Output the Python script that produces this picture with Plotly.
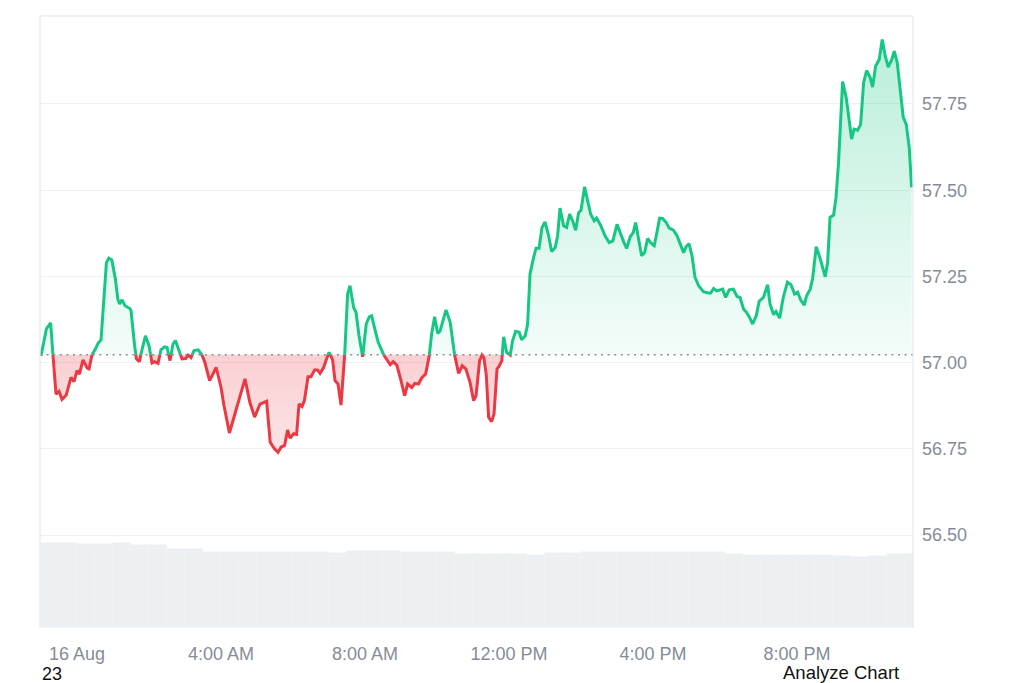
import numpy as np
import pandas as pd
import plotly.graph_objects as go

# ---- data (minutes after 00:00 on 16 Aug 2023, price in USD) ----
minutes = [-60, -51, -44, -40, -35, -30, -25, -18, -10, -5, 0, 4, 10, 17, 20, 25, 30, 35, 40,
           49, 53, 58, 64, 68, 71, 75, 80, 88, 90, 96, 99, 104, 110, 114, 120, 125, 129, 135,
           140, 146, 150, 155, 160, 164, 171, 175, 181, 185, 190, 195, 202, 207, 213, 221, 228,
           232, 240, 245, 254, 266, 280, 288, 296, 305, 311, 316, 322, 329, 335, 340, 346, 351,
           355, 361, 366, 370, 375, 379, 385, 390, 396, 401, 405, 411, 415, 420, 426, 430, 435,
           440, 446, 451, 455, 461, 465, 470, 476, 482, 487, 491, 497, 502, 511, 516, 522, 527,
           533, 540, 546, 551, 558, 563, 569, 575, 581, 587, 591, 596, 601, 605, 611, 615, 622,
           629, 636, 642, 648, 655, 661, 665, 671, 675, 678, 682, 686, 691, 695, 700, 703, 708,
           711, 716, 722, 726, 731, 737, 741, 747, 751, 755, 761, 765, 770, 775, 780, 786, 791,
           797, 801, 805, 811, 816, 821, 826, 831, 836, 840, 846, 851, 856, 862, 866, 873, 880,
           887, 893, 900, 905, 911, 916, 922, 927, 931, 936, 941, 946, 951, 956, 962, 966, 971,
           976, 982, 987, 994, 1000, 1004, 1011, 1015, 1020, 1025, 1030, 1036, 1044, 1052, 1056,
           1061, 1066, 1072, 1076, 1081, 1087, 1094, 1100, 1105, 1111, 1115, 1121, 1126, 1132,
           1137, 1144, 1151, 1155, 1161, 1165, 1171, 1177, 1184, 1190, 1196, 1201, 1206, 1212,
           1216, 1222, 1226, 1232, 1238, 1247, 1251, 1255, 1261, 1265, 1269, 1273, 1276, 1282,
           1287, 1291, 1295, 1301, 1306, 1311, 1316, 1322, 1326, 1331, 1337, 1342, 1347, 1352,
           1358, 1362, 1367, 1373, 1377, 1382, 1387, 1391]

prices = [57.020, 57.098, 57.115, 57.020, 56.909, 56.917, 56.893, 56.906, 56.957, 56.945, 56.977,
          56.967, 57.008, 56.984, 56.982, 57.023, 57.037, 57.056, 57.066, 57.290, 57.303, 57.298,
          57.242, 57.184, 57.170, 57.182, 57.165, 57.157, 57.151, 57.049, 57.011, 57.003, 57.054,
          57.078, 57.049, 56.999, 57.003, 56.998, 57.038, 57.046, 57.044, 57.006, 57.054, 57.064,
          57.030, 57.011, 57.012, 57.022, 57.015, 57.035, 57.037, 57.028, 57.001, 56.948, 56.972,
          56.986, 56.928, 56.875, 56.796, 56.866, 56.953, 56.885, 56.842, 56.880, 56.885, 56.888,
          56.769, 56.750, 56.740, 56.755, 56.760, 56.805, 56.781, 56.794, 56.792, 56.880, 56.873,
          56.890, 56.959, 56.959, 56.979, 56.979, 56.969, 56.986, 57.006, 57.030, 57.008, 56.948,
          56.938, 56.877, 57.020, 57.199, 57.223, 57.160, 57.146, 57.078, 57.017, 57.112, 57.133,
          57.136, 57.093, 57.059, 57.023, 57.008, 56.994, 57.003, 56.993, 56.948, 56.904, 56.938,
          56.928, 56.940, 56.938, 56.957, 56.967, 57.020, 57.083, 57.133, 57.085, 57.091, 57.131,
          57.153, 57.117, 57.025, 56.969, 56.991, 56.982, 56.943, 56.890, 56.904, 57.006, 57.022,
          57.015, 56.967, 56.842, 56.829, 56.851, 56.982, 56.988, 57.006, 57.075, 57.030, 57.022,
          57.064, 57.091, 57.088, 57.066, 57.078, 57.112, 57.257, 57.305, 57.332, 57.332, 57.392,
          57.408, 57.368, 57.322, 57.334, 57.368, 57.448, 57.397, 57.392, 57.431, 57.411, 57.384,
          57.435, 57.442, 57.510, 57.469, 57.431, 57.411, 57.419, 57.397, 57.368, 57.348, 57.353,
          57.401, 57.377, 57.351, 57.331, 57.365, 57.377, 57.406, 57.358, 57.310, 57.319, 57.360,
          57.348, 57.339, 57.373, 57.419, 57.418, 57.406, 57.390, 57.384, 57.368, 57.350, 57.319,
          57.336, 57.345, 57.310, 57.247, 57.223, 57.206, 57.202, 57.202, 57.215, 57.208, 57.211,
          57.213, 57.189, 57.211, 57.213, 57.192, 57.189, 57.155, 57.148, 57.131, 57.112, 57.136,
          57.178, 57.189, 57.226, 57.170, 57.139, 57.148, 57.129, 57.189, 57.233, 57.226, 57.199,
          57.204, 57.182, 57.167, 57.194, 57.213, 57.244, 57.336, 57.305, 57.249, 57.290, 57.421,
          57.428, 57.479, 57.575, 57.720, 57.815, 57.768, 57.701, 57.648, 57.677, 57.674, 57.691,
          57.812, 57.847, 57.826, 57.799, 57.860, 57.879, 57.937, 57.889, 57.857, 57.879, 57.903,
          57.870, 57.783, 57.712, 57.691, 57.624, 57.508]

baseline_price = 57.023   # opening price (dotted reference line)

# volume (arbitrary units), one bar per 30 minutes
vol_minutes = list(range(-60, 1381, 30))
volumes = [85.3, 85.3, 84.0, 84.5, 84.7, 83.5, 83.0, 79.0, 78.7, 76.0, 75.7, 75.7, 75.7, 75.7,
           75.7, 75.7, 75.0, 77.0, 77.3, 77.0, 75.7, 75.7, 75.7, 74.0, 73.7, 73.7, 73.7, 73.0,
           74.7, 75.0, 75.7, 75.7, 75.7, 75.7, 75.7, 75.7, 75.7, 75.7, 74.0, 73.0, 73.0, 73.0,
           73.0, 73.0, 72.0, 71.3, 72.0, 73.7, 73.7]

tick_minutes = [0, 240, 480, 720, 960, 1200]
tick_labels = ["16 Aug", "4:00 AM", "8:00 AM", "12:00 PM", "4:00 PM", "8:00 PM"]
price_ticks = [56.50, 56.75, 57.00, 57.25, 57.50, 57.75]

GREEN = "#16c784"
RED = "#ea3943"
day0 = pd.Timestamp("2023-08-16 00:00")


def to_time(m):
    return day0 + pd.to_timedelta(np.asarray(m, float), unit="m")


# ---- split the series at crossings of the baseline ----
t = np.array(minutes, float)
p = np.array(prices, float)
xs, ys = [t[0]], [p[0]]
for i in range(1, len(t)):
    a, b = p[i - 1] - baseline_price, p[i] - baseline_price
    if a * b < 0:
        f = a / (a - b)
        xs.append(t[i - 1] + f * (t[i] - t[i - 1]))
        ys.append(baseline_price)
    xs.append(t[i])
    ys.append(p[i])
xs = np.array(xs)
ys = np.array(ys)
xt = to_time(xs)

up_fill = np.maximum(ys, baseline_price)
dn_fill = np.minimum(ys, baseline_price)
up_line = [y if y >= baseline_price else None for y in ys]
dn_line = [y if y <= baseline_price else None for y in ys]
base_arr = np.full(len(xs), baseline_price)

fig = go.Figure()

# volume bars
fig.add_trace(go.Bar(
    x=to_time(np.array(vol_minutes) + 15), y=volumes, yaxis="y2",
    width=30 * 60 * 1000, marker=dict(color="#edf0f3", line=dict(width=0.6, color="#f2f4f6")),
    hoverinfo="skip", showlegend=False))

# fills
fig.add_trace(go.Scatter(x=xt, y=base_arr, mode="lines", line=dict(width=0),
                         hoverinfo="skip", showlegend=False))
fig.add_trace(go.Scatter(
    x=xt, y=up_fill, mode="lines", line=dict(width=0), fill="tonexty",
    fillgradient=dict(type="vertical", start=baseline_price, stop=57.95,
                      colorscale=[[0, "rgba(22,199,132,0.05)"], [1, "rgba(22,199,132,0.30)"]]),
    hoverinfo="skip", showlegend=False))
fig.add_trace(go.Scatter(x=xt, y=base_arr, mode="lines", line=dict(width=0),
                         hoverinfo="skip", showlegend=False))
fig.add_trace(go.Scatter(
    x=xt, y=dn_fill, mode="lines", line=dict(width=0), fill="tonexty",
    fillgradient=dict(type="vertical", start=56.73, stop=baseline_price,
                      colorscale=[[0, "rgba(234,57,67,0.13)"], [1, "rgba(234,57,67,0.24)"]]),
    hoverinfo="skip", showlegend=False))

# lines
fig.add_trace(go.Scatter(x=xt, y=up_line, mode="lines", connectgaps=False,
                         line=dict(color=GREEN, width=3), showlegend=False))
fig.add_trace(go.Scatter(x=xt, y=dn_line, mode="lines", connectgaps=False,
                         line=dict(color=RED, width=3), showlegend=False))

# dotted baseline
fig.add_shape(type="line", xref="paper", x0=0, x1=1, yref="y",
              y0=baseline_price, y1=baseline_price,
              line=dict(color="#8a9098", width=1.5, dash="2px,4.6px"))
# plot-area border (top, left, right)
for (x0, y0, x1, y1) in [(0, 1, 1, 1), (0, 0, 0, 1), (1, 0, 1, 1)]:
    fig.add_shape(type="line", xref="paper", yref="paper", x0=x0, y0=y0, x1=x1, y1=y1,
                  line=dict(color="#e6e8eb", width=1.2))

# page body has an 8px margin, so the figure is drawn 8px smaller/offset
OFF = 8
W, H = 1024 - OFF, 683 - OFF
L, T = 40 - OFF, 16 - OFF
pw, ph = 873, 612
R, B = W - L - pw, H - T - ph


def px_to_paper(x, y):
    return (x - OFF - L) / pw, (H - (y - OFF) - B) / ph


ax, ay = px_to_paper(841, 672)
fig.add_annotation(text="Analyze Chart", xref="paper", yref="paper", x=ax, y=ay,
                   xanchor="center", yanchor="middle", showarrow=False,
                   font=dict(size=18.5, color="#111111", family="Liberation Sans, Arial"))
bx, by = px_to_paper(40, 674)
fig.add_annotation(text="23", xref="paper", yref="paper", x=bx, y=by,
                   xanchor="left", yanchor="middle", showarrow=False,
                   font=dict(size=18, color="#111111", family="Liberation Sans, Arial"))

fig.update_layout(
    width=W, height=H,
    margin=dict(l=L, r=R, t=T, b=B, autoexpand=False),
    paper_bgcolor="white", plot_bgcolor="white",
    font=dict(family="Liberation Sans, Arial", color="#858c99"),
    bargap=0.0,
    xaxis=dict(type="date", range=[day0 + pd.Timedelta(minutes=-61.7),
                                   day0 + pd.Timedelta(minutes=1393.3)],
               tickvals=list(to_time(tick_minutes)), ticktext=tick_labels,
               showgrid=False, zeroline=False, showline=False, ticks="",
               tickfont=dict(size=18, color="#858c99"), ticklabelstandoff=13),
    yaxis=dict(side="right", range=[56.2307, 58.005], tickvals=price_ticks,
               ticktext=[f"{v:.2f}" for v in price_ticks],
               showgrid=True, gridcolor="#eef0f3", gridwidth=1, zeroline=False,
               showline=False, ticks="", tickfont=dict(size=18, color="#858c99"),
               ticklabelstandoff=8),
    yaxis2=dict(overlaying="y", range=[0, 612], visible=False, fixedrange=True),
    showlegend=False,
)

fig.write_html("out.html")
